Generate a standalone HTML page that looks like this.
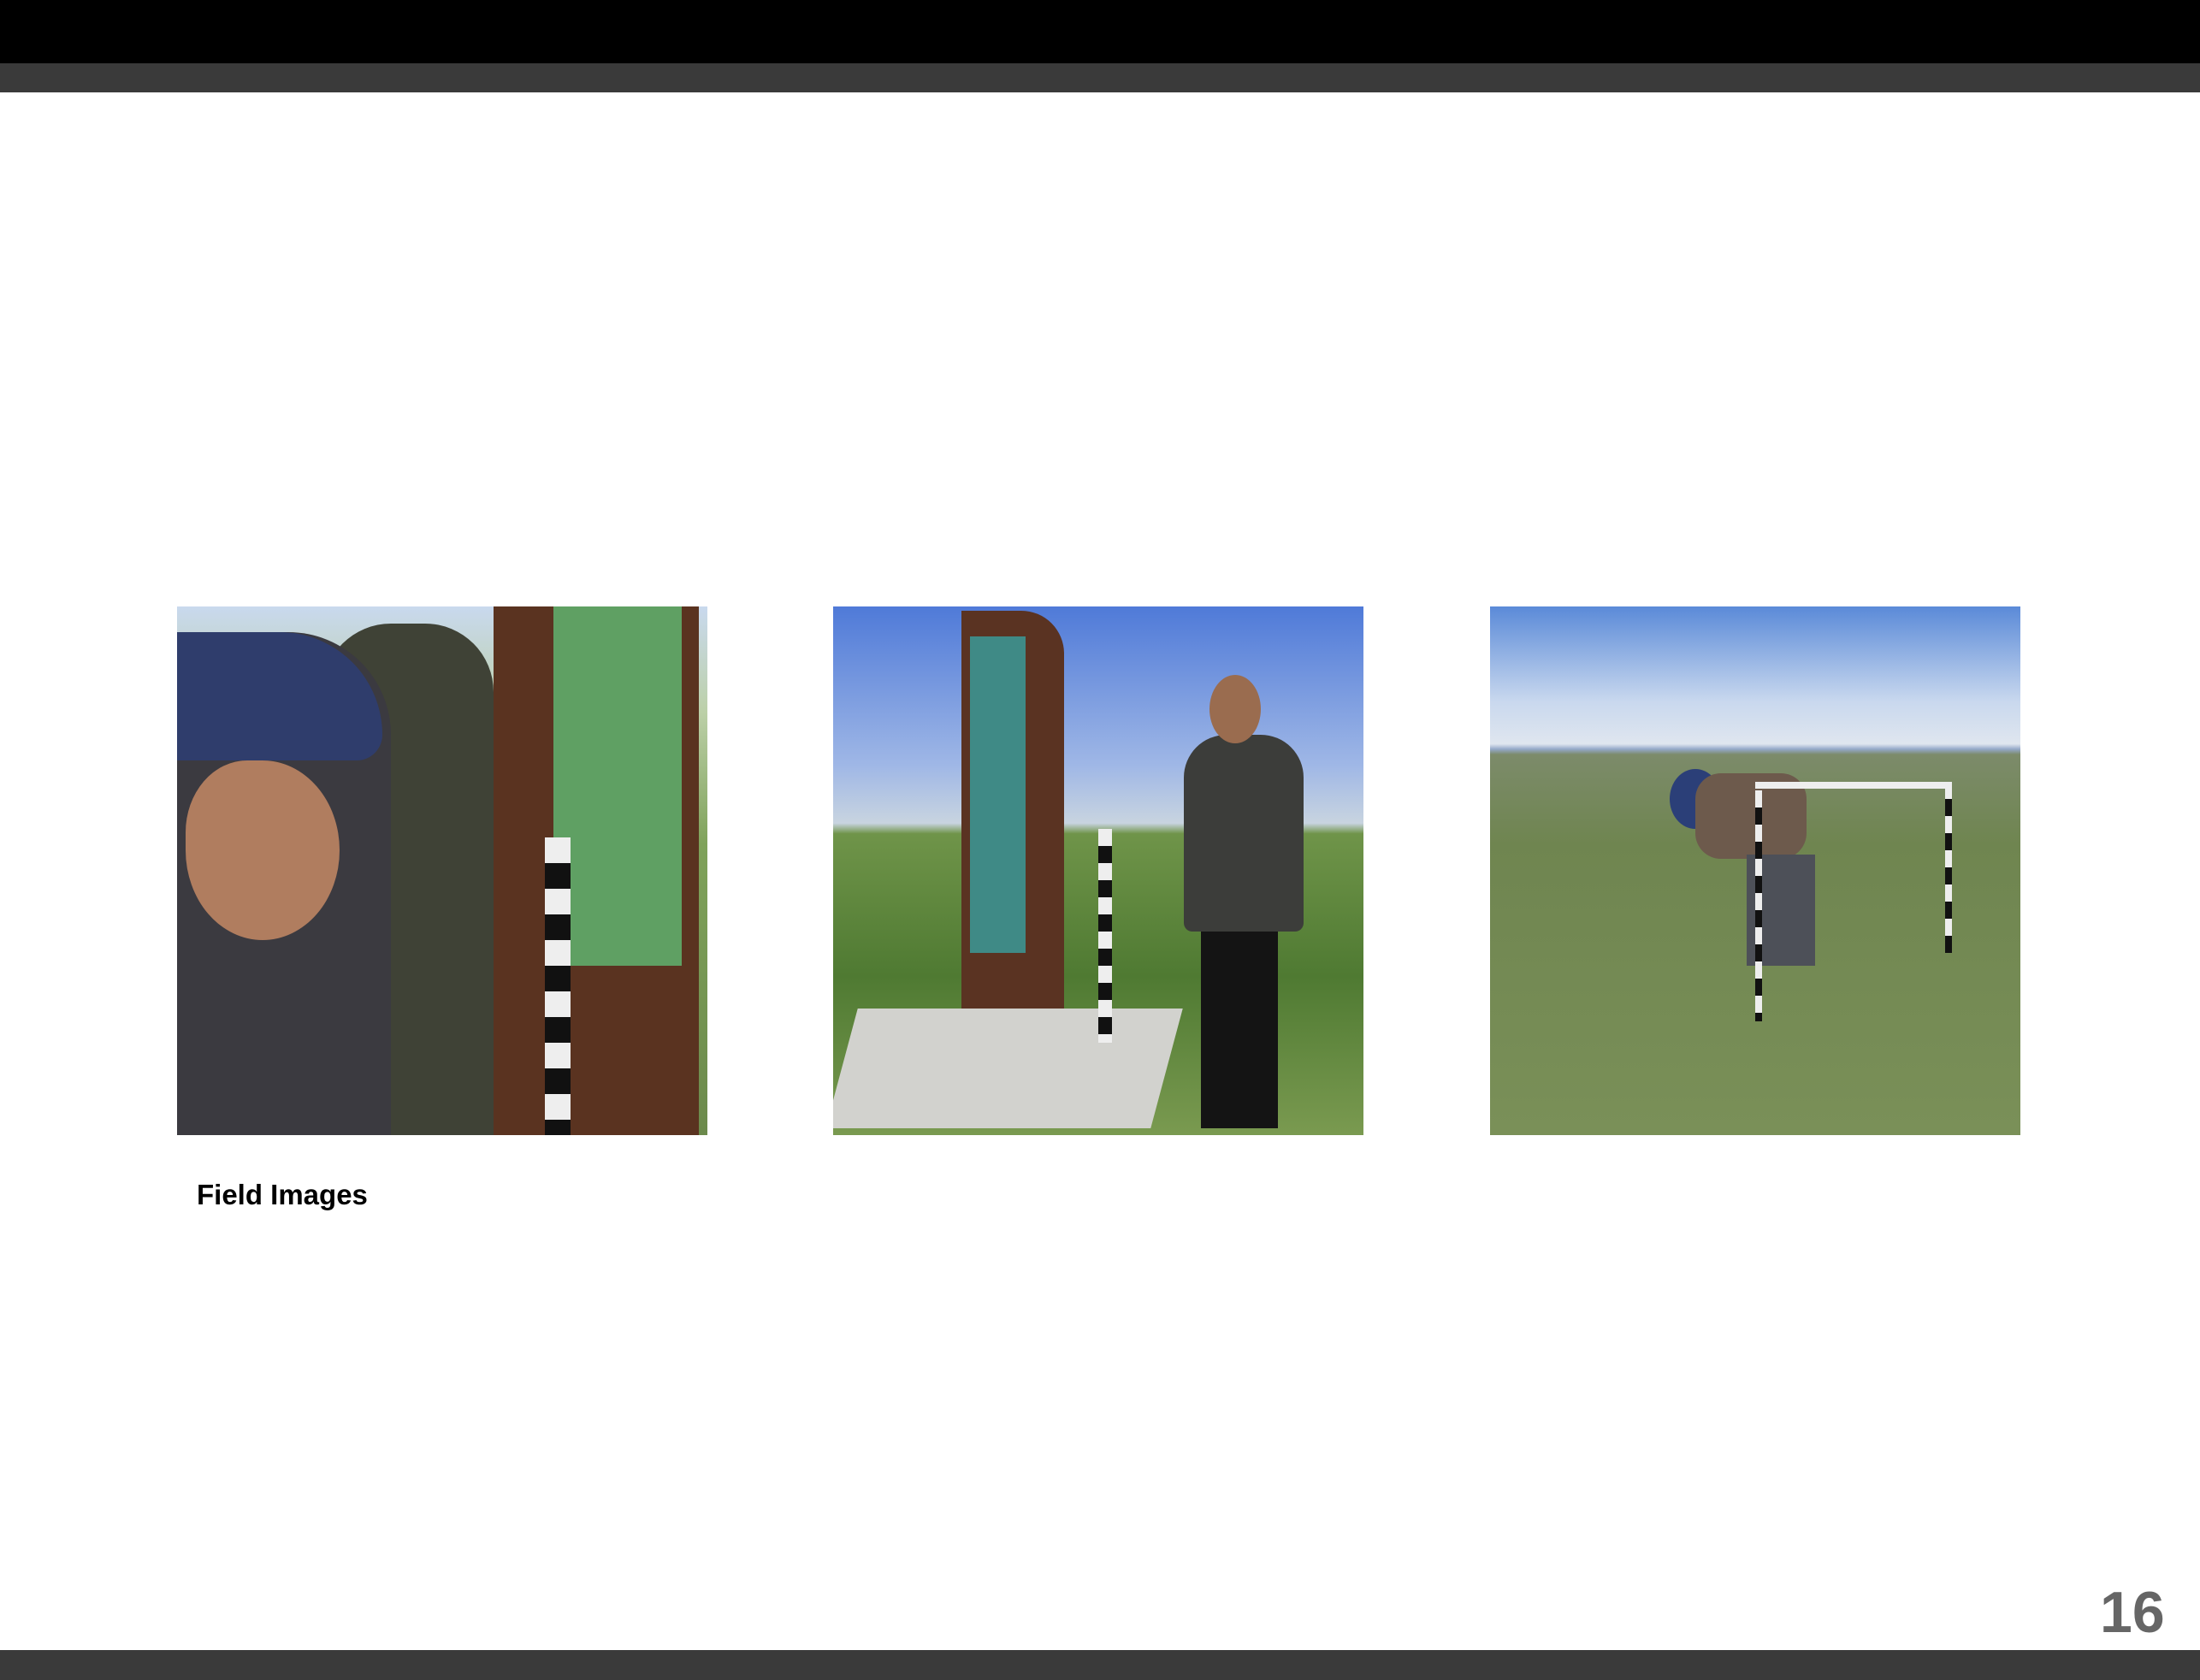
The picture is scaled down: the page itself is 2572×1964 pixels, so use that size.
<!DOCTYPE html>
<html><head><meta charset="utf-8"><style>
body{margin:0;width:2572px;height:1964px;background:#fff;position:relative;overflow:hidden;font-family:"Liberation Sans",sans-serif}
.a{position:absolute}
.ph{position:absolute;top:709px;width:620px;height:618px;overflow:hidden}
</style></head><body>
<div class="a" style="left:0;top:0;width:2572px;height:74px;background:#000"></div>
<div class="a" style="left:0;top:74px;width:2572px;height:34px;background:#3a3a3a"></div>

<div class="ph" style="left:207px;background:linear-gradient(#c9d9ee 0%,#bcd0a8 20%,#7fa25a 45%,#6c8a4c 100%)">
  <div class="a" style="left:370px;top:0;width:240px;height:618px;background:#5a3320"></div>
  <div class="a" style="left:440px;top:0;width:150px;height:420px;background:#5fa063"></div>
  <div class="a" style="left:170px;top:20px;width:200px;height:598px;background:#3f4236;border-radius:80px 80px 0 0"></div>
  <div class="a" style="left:0;top:30px;width:250px;height:588px;background:#3b3a40;border-radius:0 120px 0 0"></div>
  <div class="a" style="left:0;top:30px;width:240px;height:150px;background:#2f3d6c;border-radius:0 120px 30px 0"></div>
  <div class="a" style="left:10px;top:180px;width:180px;height:210px;background:#b07d5f;border-radius:40% 50% 50% 50%"></div>
  <div class="a" style="left:430px;top:270px;width:30px;height:348px;background:repeating-linear-gradient(#eee 0 30px,#111 30px 60px)"></div>
</div>

<div class="ph" style="left:974px;background:linear-gradient(#4f7ad8 0%,#9fb7e6 30%,#c8d4e0 41%,#6f9449 43%,#4f7a32 70%,#7a9a50 100%)">
  <div class="a" style="left:150px;top:5px;width:120px;height:500px;background:#5a3322;border-radius:0 50px 0 0"></div>
  <div class="a" style="left:160px;top:35px;width:65px;height:370px;background:#3f8a86"></div>
  <div class="a" style="left:10px;top:470px;width:380px;height:140px;background:#d2d2ce;transform:skewX(-15deg)"></div>
  <div class="a" style="left:410px;top:150px;width:140px;height:230px;background:#3c3d3a;border-radius:50px 50px 10px 10px"></div>
  <div class="a" style="left:440px;top:80px;width:60px;height:80px;background:#9a6c4f;border-radius:50%"></div>
  <div class="a" style="left:430px;top:380px;width:90px;height:230px;background:#141414"></div>
  <div class="a" style="left:310px;top:260px;width:16px;height:250px;background:repeating-linear-gradient(#eee 0 20px,#111 20px 40px)"></div>
</div>

<div class="ph" style="left:1742px;background:linear-gradient(#5a8ad8 0%,#c9d8ee 18%,#dfe6ef 26%,#94a8c8 27%,#7c8b6a 28%,#6f8550 45%,#7a9058 100%)">
  <div class="a" style="left:210px;top:190px;width:60px;height:70px;background:#2b3f78;border-radius:50%"></div>
  <div class="a" style="left:240px;top:195px;width:130px;height:100px;background:#6d5a4c;border-radius:30px"></div>
  <div class="a" style="left:300px;top:290px;width:80px;height:130px;background:#4d5058"></div>
  <div class="a" style="left:310px;top:205px;width:230px;height:8px;background:#eee"></div>
  <div class="a" style="left:532px;top:205px;width:8px;height:200px;background:repeating-linear-gradient(#eee 0 20px,#111 20px 40px)"></div>
  <div class="a" style="left:310px;top:215px;width:8px;height:270px;background:repeating-linear-gradient(#eee 0 20px,#111 20px 40px)"></div>
</div>

<div class="a" style="left:230px;top:1378px;font-size:33px;font-weight:bold;color:#000">Field Images</div>
<div class="a" style="left:2455px;top:1846px;font-size:68px;font-weight:bold;color:#666">16</div>
<div class="a" style="left:0;top:1929px;width:2572px;height:35px;background:#3a3a3a"></div>
</body></html>
